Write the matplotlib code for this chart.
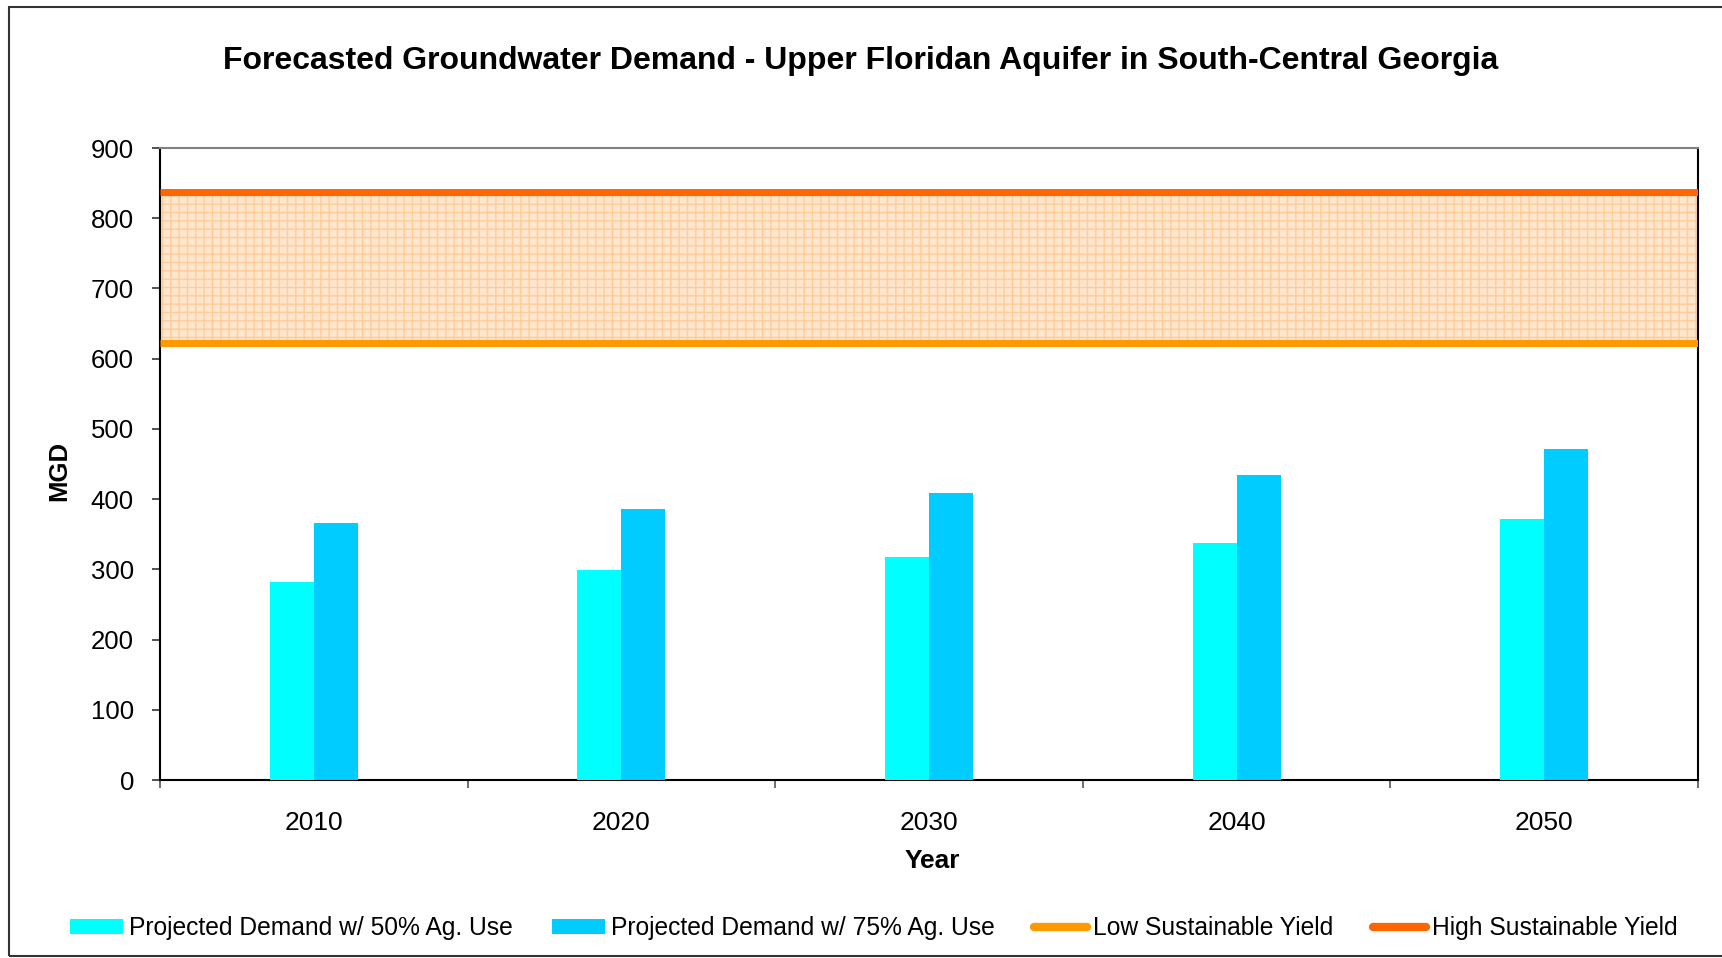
import matplotlib
matplotlib.use("Agg")
import matplotlib.pyplot as plt
import numpy as np
from matplotlib.patches import Rectangle, Patch
from matplotlib.lines import Line2D

plt.rcParams['font.family'] = ['Liberation Sans', 'DejaVu Sans']
plt.rcParams['hatch.linewidth'] = 1.0

years = ['2010', '2020', '2030', '2040', '2050']
demand_50 = [282, 299, 318, 338, 371]
demand_75 = [366, 386, 409, 434, 472]
low_yield = 623
high_yield = 837
yticks = [0, 100, 200, 300, 400, 500, 600, 700, 800, 900]

c50 = '#00FFFF'
c75 = '#00CCFF'
c_low = '#FF9900'
c_high = '#FF6600'

W, H = 1722, 958
fig = plt.figure(figsize=(W / 100, H / 100), dpi=100)
ax = fig.add_axes([160 / W, 1 - 780 / H, (1698 - 160) / W, (780 - 148) / H])

x = np.arange(len(years))
bw = 0.143
ax.bar(x - bw / 2, demand_50, width=bw, color=c50, linewidth=0, zorder=3)
ax.bar(x + bw / 2, demand_75, width=bw, color=c75, linewidth=0, zorder=3)

xl = (-0.5, len(years) - 0.5)
ax.fill_between(xl, [low_yield] * 2, [high_yield] * 2, facecolor='#FFE6CC',
                edgecolor='#FFCB9A', hatch='++', linewidth=0, zorder=1)
ax.plot(xl, [low_yield] * 2, color=c_low, lw=5, solid_capstyle='butt', zorder=4)
ax.plot(xl, [high_yield] * 2, color=c_high, lw=5, solid_capstyle='butt', zorder=4)

ax.set_xlim(*xl)
ax.set_ylim(0, 900)
ax.set_yticks(yticks)
ax.set_yticklabels([str(v) for v in yticks])
ax.tick_params(axis='y', labelsize=18.5, length=5.8, width=1.2, direction='out', pad=13, color='#333333')

ax.set_xticks(np.arange(-0.5, len(years), 1.0))
ax.set_xticklabels([])
ax.set_xticks(x, minor=True)
ax.set_xticklabels(years, minor=True)
ax.tick_params(axis='x', which='major', length=5.8, width=1.2, direction='out', color='#555555')
ax.tick_params(axis='x', which='minor', length=0, labelsize=19, pad=22)

for s in ['left', 'bottom', 'right']:
    ax.spines[s].set_color('black')
    ax.spines[s].set_linewidth(1.5)
ax.spines['top'].set_color('#808080')
ax.spines['top'].set_linewidth(1.5)

fig.text(0.5, 1 - 61 / H, 'Forecasted Groundwater Demand - Upper Floridan Aquifer in South-Central Georgia',
         ha='center', va='center', fontsize=23, fontweight='bold')
fig.text(932 / W, 1 - 861 / H, 'Year', ha='center', va='center', fontsize=19, fontweight='bold')
fig.text(59 / W, 1 - 471 / H, 'MGD', ha='center', va='center', rotation=90, fontsize=18.5, fontweight='bold')

handles = [
    Patch(facecolor=c50, edgecolor='none'),
    Patch(facecolor=c75, edgecolor='none'),
    Line2D([0], [0], color=c_low, lw=6, solid_capstyle='round'),
    Line2D([0], [0], color=c_high, lw=6, solid_capstyle='round'),
]
labels = ['Projected Demand w/ 50% Ag. Use', 'Projected Demand w/ 75% Ag. Use',
          'Low Sustainable Yield', 'High Sustainable Yield']
fig.legend(handles, labels, loc='center', bbox_to_anchor=(874 / W, 1 - 928 / H), ncol=4,
           frameon=False, fontsize=17.7, handlelength=2.15, handleheight=0.55,
           handletextpad=0.25, columnspacing=1.6, borderpad=0, borderaxespad=0)

fig.add_artist(Rectangle((9 / W, 2 / H), 1.05, (956 - 7) / H, transform=fig.transFigure,
                         fill=False, edgecolor='#333333', lw=1.5))

fig.savefig('out.png', dpi=100)
